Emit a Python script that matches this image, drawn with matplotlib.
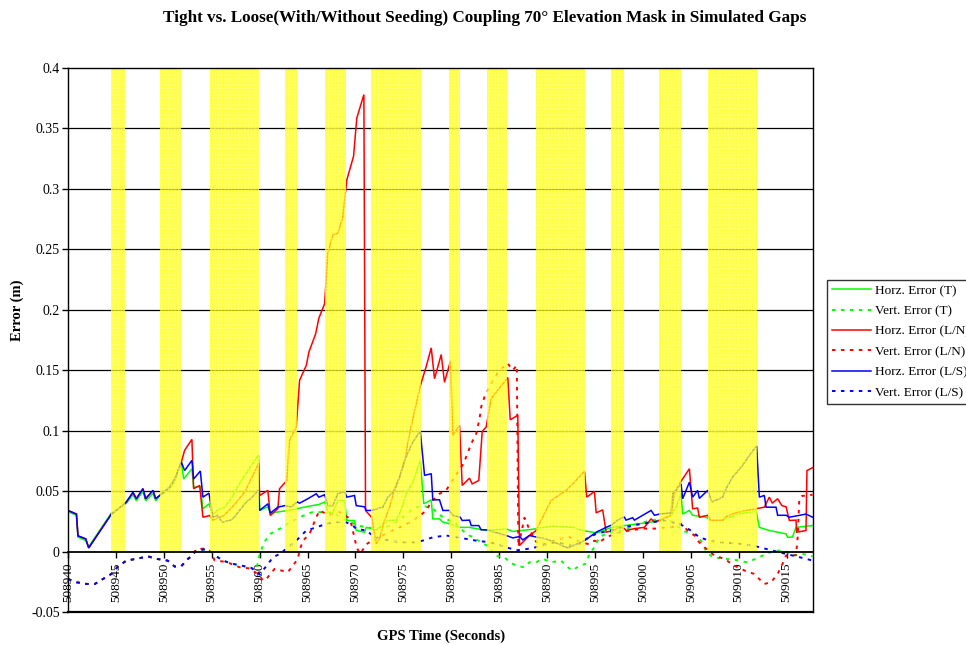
import matplotlib
matplotlib.use('Agg')
import matplotlib.pyplot as plt
from matplotlib.patches import Rectangle
from matplotlib.lines import Line2D
import numpy as np

plt.rcParams['font.family'] = ['Liberation Serif', 'DejaVu Serif']
plt.rcParams['hatch.linewidth'] = 0.5

T0 = 508940
title = "Tight vs. Loose(With/Without Seeding) Coupling 70\u00b0 Elevation Mask in Simulated Gaps"
xlabel = "GPS Time (Seconds)"
ylabel = "Error (m)"
xticks = [508940, 508945, 508950, 508955, 508960, 508965, 508970, 508975,
          508980, 508985, 508990, 508995, 509000, 509005, 509010, 509015]
yticks = [-0.05, 0, 0.05, 0.1, 0.15, 0.2, 0.25, 0.3, 0.35, 0.4]
ytick_labels = ['-0.05', '0', '0.05', '0.1', '0.15', '0.2', '0.25', '0.3', '0.35', '0.4']
labels = ['Horz. Error (T)', 'Vert. Error (T)', 'Horz. Error (L/N)',
          'Vert. Error (L/N)', 'Horz. Error (L/S)', 'Vert. Error (L/S)']

# simulated gaps (seconds after 508940)
gap_start = [4.5, 9.6, 14.8, 22.6, 26.8, 31.6, 39.8, 43.7, 48.8, 56.7, 61.7, 66.8]
gap_end = [6.0, 11.8, 19.9, 23.9, 29.0, 36.8, 40.9, 45.8, 54.0, 58.0, 64.0, 71.9]

# Horz. Error (T)
ht_t = [0, 0.88, 1.04, 1.85, 2.16, 4.53, 5.05, 6.09, 6.78, 7.13, 7.82, 8.10, 8.87, 9.15, 9.57,
        10.61, 11.13, 11.83, 12.07, 12.93, 13.11, 13.81, 14.08, 14.71, 15.12, 15.82, 16.3, 17.21,
        18.09, 19.89, 20.0, 20.86, 21.11, 21.74, 23.0, 24.2, 25.5, 26.2, 26.78, 27.12, 27.64, 28.16,
        28.86, 29.1, 29.9, 30.08, 30.95, 31.13, 31.65, 32.17, 33.38, 34.3, 34.94, 35.3, 35.99, 36.76,
        37.13, 37.91, 38.07, 38.77, 39.12, 39.81, 40.86, 41.9, 43.64, 45.73, 46.42, 48.86, 50.5,
        52.67, 53.72, 54.76, 55.12, 56.74, 58.07, 60.85, 61.72, 62.94, 63.46, 63.98, 64.15, 64.85,
        65.19, 66.59, 67.11, 68.32, 69.89, 71.81, 72.15, 73.19, 74.94, 75.1, 75.6, 75.98, 77.71]
ht_v = [0.033, 0.030, 0.012, 0.009, 0.004, 0.032, 0.034, 0.040, 0.047, 0.042, 0.050, 0.042, 0.048,
        0.042, 0.046, 0.052, 0.058, 0.074, 0.060, 0.0685, 0.0533, 0.0536, 0.0354, 0.0395, 0.031,
        0.0354, 0.036, 0.0464, 0.0588, 0.080, 0.034, 0.037, 0.0315, 0.0326, 0.034, 0.036, 0.038,
        0.039, 0.041, 0.0326, 0.0326, 0.042, 0.042, 0.0257, 0.0257, 0.0174, 0.016, 0.020, 0.019,
        0.018, 0.0257, 0.026, 0.038, 0.0478, 0.0574, 0.0754, 0.0395, 0.0428, 0.027, 0.027, 0.0243,
        0.023, 0.020, 0.020, 0.0174, 0.0188, 0.0166, 0.0188, 0.021, 0.020, 0.0174, 0.016, 0.0152,
        0.020, 0.0215, 0.0243, 0.026, 0.030, 0.0367, 0.0478, 0.031, 0.034, 0.030, 0.0284, 0.0257,
        0.026, 0.031, 0.0335, 0.020, 0.0174, 0.0146, 0.0118, 0.012, 0.020, 0.0215]

# Vert. Error (T)
vt_t = [0, 0.88, 1.93, 2.8, 3.65, 4.53, 5.22, 6.09, 7.13, 8.34, 9.21, 10.4, 11.13, 11.83, 12.52,
        12.87, 13.4, 14.26, 14.96, 15.5, 16.17, 17.21, 18.09, 19.13, 19.65, 20.0, 20.5, 21.11,
        22.08, 23.5, 24.17, 25.5, 26.9, 27.95, 28.86, 30.08, 31.13, 32.17, 33.5, 34.6, 35.99, 37.03,
        38.07, 39.12, 40.5, 41.55, 42.25, 43.99, 44.5, 45.55, 46.07, 46.77, 47.6, 48.16, 48.86,
        49.55, 50.42, 51.46, 52.15, 52.67, 53.37, 54.0, 54.42, 54.94, 55.46, 56.5, 58.0, 59.4, 60.8,
        62.2, 63.1, 64.15, 65.5, 66.2, 66.59, 67.28, 68.68, 69.7, 70.8, 71.8, 72.85, 73.9, 74.94,
        75.6, 76.7, 77.71]
vt_v = [-0.0227, -0.0254, -0.0268, -0.0268, -0.0227, -0.0185, -0.0124, -0.0075, -0.006, -0.004,
        -0.006, -0.0075, -0.0124, -0.012, -0.006, -0.004, 0.001, 0.0017, 0.0, -0.004, -0.0075,
        -0.0102, -0.0116, -0.0135, -0.015, -0.002, 0.008, 0.0146, 0.0188, 0.0257, 0.0284, 0.0326,
        0.0326, 0.031, 0.027, 0.022, 0.020, 0.019, 0.021, 0.026, 0.0354, 0.038, 0.0354, 0.0284,
        0.023, 0.0146, 0.0118, 0.0036, -0.0033, -0.0047, -0.0088, -0.0116, -0.013, -0.0088,
        -0.0088, -0.006, -0.0088, -0.0075, -0.013, -0.0157, -0.0116, -0.0102, -0.002, 0.0036, 0.012,
        0.016, 0.0174, 0.023, 0.0257, 0.027, 0.0243, 0.0174, 0.0133, 0.0077, 0.0, -0.0047, -0.006,
        -0.007, -0.0088, -0.006, -0.002, 0.001, 0.0, -0.0033, -0.002, -0.004]

# Horz. Error (L/N)
hn_t = [0, 0.88, 1.04, 1.85, 2.16, 4.53, 5.05, 6.09, 6.78, 7.13, 7.82, 8.10, 8.87, 9.15, 9.57,
        10.61, 11.13, 11.83, 12.17, 12.93, 13.11, 13.74, 14.08, 14.78, 15.12, 16.3, 17.5, 18.5,
        19.89, 20.0, 20.86, 21.11, 21.9, 22.08, 22.84, 23.12, 23.82, 24.17, 24.87, 25.14, 25.84,
        26.18, 26.78, 27.12, 27.64, 28.16, 28.68, 29.1, 29.8, 30.14, 30.88, 31.05, 31.71, 32.17,
        32.51, 32.96, 33.56, 34.08, 34.6, 35.12, 35.64, 36.16, 36.79, 37.38, 37.91, 38.25, 38.95,
        39.29, 39.92, 40.16, 40.86, 41.14, 41.9, 42.18, 42.87, 43.23, 43.64, 44.16, 45.9, 46.15,
        46.94, 47.12, 48.16, 48.86, 49.2, 50.42, 51.99, 52.85, 53.9, 54.14, 54.94, 55.12, 55.8,
        56.16, 56.85, 57.54, 58.07, 58.24, 59.11, 60.15, 60.85, 61.2, 61.72, 62.94, 63.28, 63.81,
        64.85, 65.19, 65.71, 65.89, 66.76, 67.11, 68.32, 68.68, 69.89, 71.81, 72.67, 73.19, 73.5,
        74.06, 74.5, 74.94, 75.28, 75.98, 76.04, 77.02, 77.12, 77.71]
hn_v = [0.034, 0.031, 0.013, 0.0105, 0.003, 0.031, 0.034, 0.041, 0.049, 0.0437, 0.052, 0.0437,
        0.0506, 0.0437, 0.0464, 0.0533, 0.060, 0.074, 0.0837, 0.0928, 0.052, 0.0547, 0.0284,
        0.0298, 0.026, 0.030, 0.040, 0.050, 0.073, 0.0464, 0.0506, 0.0298, 0.0354, 0.052, 0.0588,
        0.092, 0.103, 0.1417, 0.154, 0.165, 0.180, 0.193, 0.205, 0.2467, 0.262, 0.2633, 0.277,
        0.3075, 0.327, 0.3586, 0.378, 0.034, 0.028, 0.0064, 0.0105, 0.024, 0.0367, 0.052, 0.0616,
        0.074, 0.0975, 0.1155, 0.1376, 0.153, 0.1685, 0.143, 0.163, 0.140, 0.1577, 0.096, 0.1044,
        0.0547, 0.0607, 0.056, 0.0588, 0.0994, 0.103, 0.1265, 0.144, 0.109, 0.1127, 0.005, 0.0133,
        0.0174, 0.023, 0.0423, 0.0506, 0.0574, 0.0666, 0.045, 0.0497, 0.032, 0.0345, 0.016, 0.0174,
        0.020, 0.019, 0.0174, 0.019, 0.020, 0.027, 0.0243, 0.0257, 0.030, 0.0478, 0.056, 0.0685,
        0.0354, 0.036, 0.0284, 0.030, 0.0257, 0.0257, 0.029, 0.0326, 0.0354, 0.0367, 0.045, 0.040,
        0.0437, 0.038, 0.037, 0.0257, 0.026, 0.016, 0.0174, 0.067, 0.0694]

# Vert. Error (L/N)
vn_t = [0, 0.88, 1.93, 2.8, 3.65, 4.53, 5.22, 6.09, 7.13, 8.34, 9.21, 10.4, 11.13, 11.83, 12.52,
        12.87, 13.4, 14.26, 14.96, 15.3, 16.5, 17.91, 19.0, 20.0, 20.34, 20.7, 21.56, 22.26, 22.95,
        23.47, 23.99, 24.17, 24.52, 25.21, 25.91, 26.25, 27.2, 28.3, 29.2, 29.56, 30.14, 30.5, 31.13,
        31.71, 32.5, 33.5, 34.6, 35.64, 36.79, 37.38, 37.91, 38.77, 39.46, 40.34, 41.28, 42.08,
        42.6, 42.95, 43.12, 43.47, 43.82, 44.33, 45.03, 45.9, 46.42, 46.84, 47.0, 47.64, 48.16,
        48.86, 49.9, 51.0, 52.3, 53.4, 54.4, 54.94, 55.46, 56.16, 57.54, 58.59, 60.0, 61.5, 62.94,
        63.98, 64.67, 65.37, 65.71, 66.41, 67.45, 68.49, 69.53, 70.6, 71.6, 72.67, 73.37, 74.06,
        74.6, 74.94, 75.98, 76.15, 76.32, 76.6, 77.71]
vn_v = [-0.0227, -0.0254, -0.0268, -0.0268, -0.0227, -0.0185, -0.0124, -0.0075, -0.006, -0.004,
        -0.006, -0.0075, -0.0124, -0.012, -0.006, -0.004, 0.002, 0.0025, 0.0, -0.0075, -0.0085,
        -0.013, -0.014, -0.020, -0.024, -0.0227, -0.0143, -0.0157, -0.017, -0.0116, -0.006, 0.001,
        0.009, 0.0146, 0.0284, 0.034, 0.030, 0.033, 0.0284, 0.023, 0.003, -0.002, 0.006, 0.009,
        0.012, 0.016, 0.020, 0.024, 0.030, 0.034, 0.041, 0.0478, 0.0506, 0.0616, 0.0727, 0.0892,
        0.0975, 0.11, 0.1196, 0.128, 0.1334, 0.1417, 0.150, 0.1555, 0.150, 0.154, 0.004, 0.028,
        0.018, 0.008, 0.006, 0.010, 0.012, 0.008, 0.006, 0.009, 0.0077, 0.0118, 0.016, 0.0174,
        0.019, 0.019, 0.020, 0.023, 0.0174, 0.0133, 0.009, 0.0036, -0.0033, -0.006, -0.0116,
        -0.0157, -0.0185, -0.0268, -0.0254, -0.0185, -0.0097, -0.0033, -0.003, 0.012, 0.0437,
        0.046, 0.047]

# Horz. Error (L/S)
hs_t = [0, 0.88, 1.04, 1.85, 2.16, 4.53, 5.05, 6.09, 6.78, 7.13, 7.82, 8.10, 8.87, 9.15, 9.57,
        10.61, 11.13, 11.83, 12.17, 12.93, 13.11, 13.81, 14.08, 14.71, 15.12, 15.6, 16.1, 17.0,
        17.3, 17.91, 18.61, 19.1, 19.89, 20.0, 20.86, 21.11, 21.9, 22.63, 23.3, 23.93, 24.17, 25.03,
        25.91, 26.18, 26.78, 27.12, 27.64, 28.16, 28.86, 29.1, 29.9, 30.08, 30.95, 31.13, 31.65,
        32.86, 33.38, 34.08, 34.6, 35.12, 35.99, 36.76, 37.21, 37.91, 38.07, 38.77, 39.12, 39.81,
        40.16, 40.93, 41.14, 41.9, 42.08, 42.87, 43.12, 43.64, 45.73, 46.42, 47.12, 47.46, 48.16,
        48.86, 49.9, 52.15, 53.9, 55.12, 56.16, 56.74, 57.54, 58.07, 58.24, 58.93, 59.11, 60.85,
        61.2, 61.72, 62.94, 63.11, 63.98, 64.15, 64.85, 65.19, 65.71, 65.89, 66.76, 67.22, 68.32,
        68.68, 69.36, 70.41, 71.11, 71.87, 72.15, 72.67, 72.85, 73.89, 74.06, 74.94, 75.28, 77.02,
        77.71]
hs_v = [0.034, 0.031, 0.013, 0.0105, 0.003, 0.031, 0.034, 0.041, 0.049, 0.0437, 0.052, 0.0437,
        0.0506, 0.0437, 0.0464, 0.0533, 0.060, 0.074, 0.067, 0.0754, 0.060, 0.0666, 0.045, 0.0483,
        0.0284, 0.030, 0.0243, 0.026, 0.028, 0.034, 0.041, 0.044, 0.051, 0.034, 0.0395, 0.0318,
        0.0367, 0.038, 0.037, 0.041, 0.040, 0.0437, 0.0478, 0.045, 0.047, 0.038, 0.038, 0.0478,
        0.0497, 0.045, 0.0464, 0.038, 0.037, 0.034, 0.034, 0.0367, 0.045, 0.0505, 0.0616, 0.0754,
        0.0906, 0.0997, 0.063, 0.0644, 0.0428, 0.0428, 0.034, 0.034, 0.030, 0.0284, 0.0257, 0.026,
        0.0215, 0.0215, 0.018, 0.018, 0.0133, 0.0113, 0.0124, 0.0097, 0.0133, 0.012, 0.0105, 0.003,
        0.009, 0.016, 0.020, 0.022, 0.027, 0.0284, 0.026, 0.028, 0.026, 0.034, 0.030, 0.031, 0.032,
        0.0478, 0.056, 0.0437, 0.0574, 0.045, 0.0506, 0.044, 0.0506, 0.041, 0.045, 0.052, 0.0616,
        0.0713, 0.0796, 0.0873, 0.045, 0.0464, 0.0367, 0.0367, 0.030, 0.030, 0.0284, 0.031, 0.0284]

# Vert. Error (L/S)
vs_t = [0, 0.88, 1.93, 2.8, 3.65, 4.53, 5.22, 6.09, 7.13, 8.34, 9.21, 10.4, 11.13, 11.83, 12.52,
        12.87, 13.4, 14.26, 14.96, 15.5, 16.17, 17.21, 18.09, 19.13, 19.65, 20.0, 20.7, 21.4, 22.08,
        22.77, 23.82, 24.87, 25.91, 26.95, 28.0, 29.0, 29.73, 30.08, 31.13, 32.0, 33.56, 34.6,
        36.34, 37.0, 38.07, 39.46, 40.5, 41.55, 42.6, 43.99, 44.68, 45.73, 46.77, 47.82, 48.86,
        49.9, 51.0, 52.3, 53.4, 54.1, 55.1, 56.5, 57.9, 58.9, 59.96, 61.0, 62.06, 63.1, 64.15, 65.0,
        65.89, 66.93, 67.97, 70.06, 71.46, 72.85, 74.23, 75.62, 77.02, 77.71]
vs_v = [-0.0227, -0.0254, -0.0268, -0.0268, -0.0227, -0.0185, -0.0124, -0.0075, -0.006, -0.004,
        -0.006, -0.0075, -0.0124, -0.012, -0.006, -0.004, 0.001, 0.0017, 0.0, -0.004, -0.0075,
        -0.0102, -0.0116, -0.0135, -0.017, -0.019, -0.012, -0.0047, -0.002, 0.0022, 0.009, 0.0174,
        0.020, 0.023, 0.0243, 0.0243, 0.0215, 0.0188, 0.0174, 0.012, 0.009, 0.0077, 0.0077, 0.009,
        0.0118, 0.0133, 0.0118, 0.0105, 0.009, 0.0077, 0.0064, 0.0036, 0.001, 0.002, 0.0036, 0.006,
        0.008, 0.005, 0.0064, 0.0105, 0.0146, 0.0174, 0.020, 0.0215, 0.023, 0.0243, 0.0257, 0.0243,
        0.0215, 0.0174, 0.0118, 0.009, 0.0077, 0.0064, 0.005, 0.0022, -0.0006, -0.0033, -0.006,
        -0.0075]

W, H = 966, 645
fig = plt.figure(figsize=(W / 100, H / 100), dpi=100)
ax = fig.add_axes([68 / W, 33 / H, 745 / W, 544 / H])

XMAX = T0 + 77.75
ax.set_xlim(T0, XMAX)
ax.set_ylim(-0.05, 0.4)

# gridlines
for yv in yticks:
    if 0 < yv < 0.4:
        ax.axhline(yv, color='black', lw=0.9, zorder=1)

GREEN, RED, BLUE = '#00FF00', '#FF0000', '#0000FF'
dot = (0, (1.8, 2.8))
series = [
    (ht_t, ht_v, GREEN, '-'),
    (vt_t, vt_v, GREEN, dot),
    (hn_t, hn_v, RED, '-'),
    (vn_t, vn_v, RED, dot),
    (hs_t, hs_v, BLUE, '-'),
    (vs_t, vs_v, BLUE, dot),
]
handles = []
for (ts, vs, c, ls), lab in zip(series, labels):
    assert len(ts) == len(vs), lab
    x = T0 + np.array(ts)
    lw = 1.1 if ls == '-' else 1.4
    ax.plot(x, vs, color=c, lw=lw, ls=ls, zorder=2, solid_joinstyle='miter')
    handles.append(Line2D([], [], color=c, lw=lw, ls=ls))

# semi-transparent yellow gap bands drawn over the lines
for a, b in zip(gap_start, gap_end):
    ax.add_patch(Rectangle((T0 + a, 0), b - a, 0.4, facecolor=(1, 1, 0, 0.72),
                           edgecolor=(1, 1, 0.55, 0.55), hatch='+++++', lw=0, zorder=3))

# axes frame
for s in ['left', 'top', 'right']:
    ax.spines[s].set_color('black')
    ax.spines[s].set_linewidth(1.0)
    ax.spines[s].set_zorder(5)
ax.spines['bottom'].set_position(('data', 0))
ax.spines['bottom'].set_linewidth(1.3)
ax.spines['bottom'].set_zorder(5)
ax.plot([T0, XMAX], [-0.05, -0.05], color='black', lw=1.6, clip_on=False, zorder=5)

ax.set_yticks(yticks)
ax.set_yticklabels(ytick_labels, fontsize=10)
ax.set_xticks(xticks)
ax.set_xticklabels([str(v) for v in xticks], rotation=90, fontsize=9.5)
ax.tick_params(axis='y', direction='out', length=4, width=1, pad=2)
ax.tick_params(axis='x', direction='out', length=4, width=1, pad=4)

fig.text(0.5015, 1 - 18 / H, title, ha='center', va='center', fontsize=12.3, fontweight='bold')
fig.text(441 / W, 1 - 636 / H, xlabel, ha='center', va='center', fontsize=10.5, fontweight='bold')
fig.text(17 / W, 1 - 310 / H, ylabel, ha='center', va='center', rotation=90, fontsize=10.5,
         fontweight='bold')

leg = fig.legend(handles, labels, loc='upper left', bbox_to_anchor=(827 / W, 1 - 280 / H),
                 fontsize=9.5, frameon=True, fancybox=False, edgecolor='black',
                 handlelength=3.0, handletextpad=0.3, labelspacing=0.62, borderpad=0.35,
                 borderaxespad=0)
leg.get_frame().set_linewidth(1.0)

fig.savefig('out.png', dpi=100)
